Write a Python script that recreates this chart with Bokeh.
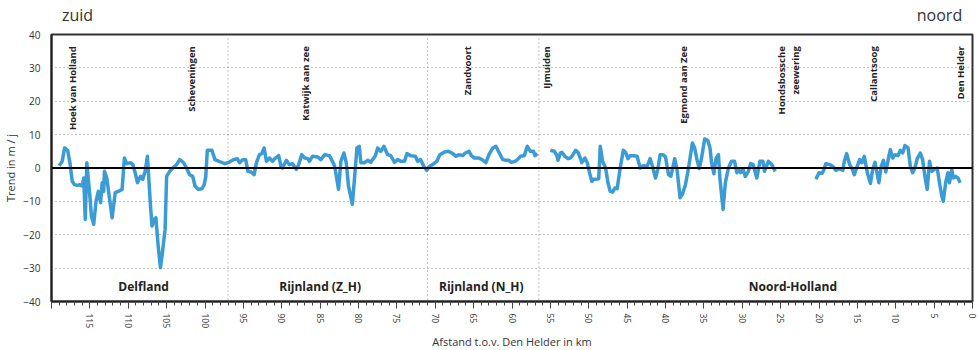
import math
from bokeh.plotting import figure
from bokeh.models import (Range1d, FixedTicker, SingleIntervalTicker, Span, LinearAxis, ColumnDataSource)
from bokeh.core.properties import value
from bokeh.embed import file_html
from bokeh.resources import INLINE

# ---- data ----
km = [119.0, 118.6, 118.3, 117.9, 117.6, 117.3, 117.0, 116.7, 116.3, 116.0, 115.8, 115.6, 115.4, 115.0,
      114.8, 114.5, 114.2, 113.9, 113.6, 113.4, 113.2, 113.1, 112.8, 112.1, 111.7, 111.3, 110.8, 110.5,
      110.2, 109.7, 109.4, 109.1, 108.8, 108.4, 108.1, 107.8, 107.5, 107.1, 106.9, 106.6, 106.4, 106.1,
      105.8, 105.6, 105.2, 105.0, 104.6, 104.2, 103.7, 103.3, 102.8, 102.4, 102.0, 101.6, 101.3, 100.9,
      100.4, 100.1, 99.9, 99.7, 99.1, 98.7, 98.1, 97.4, 97.0, 96.3, 95.8, 95.5, 95.1, 94.7, 94.4, 94.0,
      93.6, 93.3, 92.9, 92.6, 92.3, 92.0, 91.6, 91.2, 90.9, 90.4, 90.1, 89.9, 89.4, 89.0, 88.6, 88.1,
      87.8, 87.4, 87.0, 86.6, 86.4, 86.0, 85.3, 84.9, 84.4, 83.8, 83.5, 83.1, 82.6, 82.3, 81.9, 81.6,
      81.3, 80.8, 80.5, 80.2, 79.9, 79.7, 79.2, 78.8, 78.4, 77.8, 77.5, 77.1, 76.7, 76.2, 75.8, 75.3,
      74.9, 74.5, 74.0, 73.7, 73.2, 72.6, 72.3, 71.9, 71.5, 71.1, 70.8, 70.2, 69.8, 69.4, 68.8, 68.3,
      67.7, 67.3, 66.9, 66.4, 66.1, 65.6, 65.3, 64.9, 64.3, 63.9, 63.4, 63.0, 62.5, 62.1, 61.7, 61.2,
      60.8, 60.4, 60.1, 59.6, 59.3, 58.9, 58.4, 58.0, 57.6, 57.2, 57.0, 56.7,
      56.0,
      55.0, 54.5, 54.2, 54.0, 53.7, 53.5, 53.1, 52.7, 52.4, 52.2, 51.7, 51.4, 51.1, 50.9, 50.5, 50.2,
      49.9, 49.6, 49.4, 49.1, 48.7, 48.5, 48.2, 47.8, 47.5, 47.2, 46.9, 46.6, 46.3, 45.9, 45.5, 45.2,
      44.9, 44.6, 44.2, 43.7, 43.3, 42.9, 42.4, 42.0, 41.7, 41.3, 41.0, 40.7, 40.3, 40.0, 39.6, 39.3,
      38.8, 38.5, 38.1, 37.8, 37.4, 37.0, 36.5, 36.2, 35.9, 35.6, 35.3, 34.9, 34.5, 34.2, 34.0, 33.7,
      33.4, 33.1, 32.9, 32.5, 32.2, 31.8, 31.4, 31.0, 30.7, 30.5, 30.2, 29.9, 29.6, 29.2, 28.9, 28.6,
      28.1, 27.7, 27.3, 27.1, 26.6, 26.2, 25.7,
      23.0,
      20.4, 20.0, 19.6, 19.4, 19.1, 18.6, 18.2, 17.8, 17.3, 16.9, 16.7, 16.4, 16.0, 15.7, 15.4, 15.1,
      14.7, 14.4, 14.1, 13.7, 13.3, 13.0, 12.7, 12.2, 11.9, 11.6, 11.3, 10.9, 10.7, 10.4, 10.1, 9.7,
      9.4, 9.1, 8.8, 8.4, 8.1, 7.8, 7.5, 7.2, 6.8, 6.5, 6.2, 5.9, 5.6, 5.3, 5.0, 4.6, 4.3, 4.0, 3.8,
      3.5, 3.2, 3.0, 2.7, 2.5, 2.2, 1.9, 1.6]

trend = [0.7, 2.0, 6.0, 5.3, 1.6, -4.0, -5.0, -5.2, -5.0, -5.4, -3.0, -15.4, 1.6, -8.4,
         -14.4, -16.9, -10.0, -7.0, -10.4, -4.4, -7.0, -1.0, -3.0, -14.9, -7.4, -7.0, -6.4, 3.0,
         1.3, 1.6, 1.0, -1.4, -4.4, -2.5, -3.4, -1.0, 3.5, -11.4, -17.4, -15.4, -14.9, -23.4,
         -29.9, -26.4, -18.4, -2.5, -1.0, 0.0, 1.0, 2.5, 1.6, 0.0, -2.0, -2.5, -5.4, -6.4,
         -6.2, -5.0, -2.5, 5.3, 5.3, 2.5, 1.9, 1.3, 1.6, 2.5, 2.8, 1.6, 2.5, 2.5, -1.0, -1.2,
         -2.0, 1.6, 4.0, 4.3, 6.0, 2.0, 3.0, 2.0, 2.8, 3.7, 0.5, 0.0, 2.3, 1.0, 1.3, -0.4,
         1.0, 4.0, 3.0, 2.8, 2.0, 3.5, 3.3, 2.5, 4.0, 3.7, 2.5, 0.5, -6.4, 2.0, 4.5, 1.6,
         -5.4, -10.9, -2.5, 6.0, 6.5, 1.6, 1.6, 2.3, 1.7, 3.7, 6.0, 5.0, 6.5, 4.0, 3.7, 1.7,
         2.5, 2.0, 2.0, 4.3, 3.7, 3.5, 2.0, 2.5, 0.5, -0.7, 0.4, 1.3, 2.0, 4.0, 4.8, 5.0,
         4.3, 3.5, 4.0, 3.7, 4.5, 5.0, 3.7, 3.0, 3.0, 2.5, 1.6, 4.0, 6.0, 6.5, 4.7, 2.5,
         2.3, 2.3, 1.7, 2.0, 2.5, 3.5, 3.7, 6.5, 5.0, 5.0, 3.7, 4.3,
         float("nan"),
         5.3, 5.0, 4.0, 2.3, 4.5, 4.7, 3.5, 2.8, 3.0, 3.5, 5.3, 4.7, 3.0, 1.6, 3.0, 1.6,
         -1.4, -4.0, -3.4, -3.4, -3.2, 6.5, 2.0, 0.0, -4.4, -7.0, -7.2, -6.0, -6.2, 0.0, 5.3, 4.7,
         2.8, 3.7, 3.7, 3.5, 0.0, 0.7, 0.5, 2.8, 0.5, -3.0, -0.4, 4.0, 4.0, 3.3, -2.0, -2.5,
         2.8, -0.4, -8.9, -7.9, -5.0, 0.0, 7.5, 6.0, 2.5, -0.2, 3.0, 8.7, 8.3, 6.0, 1.6, -1.7,
         3.0, 4.0, -3.4, -12.4, -4.4, 0.0, 2.0, 2.0, -1.4, -0.4, -1.4, -0.4, -2.5, -1.0, 1.3, 1.1,
         -3.0, 2.0, 2.0, -1.0, 2.0, 1.2, -1.0,
         float("nan"),
         -3.4, -1.4, -1.6, -0.7, 1.3, 1.0, 0.5, -0.7, -0.2, -0.7, 2.0, 4.3, 1.0, -0.2, -2.0, 0.0,
         2.5, 1.6, 3.5, -1.4, -4.6, -0.4, 1.7, -4.4, 0.5, 2.3, -1.2, 3.5, 5.5, 3.0, 4.0, 3.7,
         5.3, 4.5, 6.7, 6.0, 0.5, -1.4, 0.0, 2.8, 4.5, 2.5, -2.5, -6.4, 2.0, -1.0, -0.4, 0.0, -4.4, -8.4, -10.0,
         -4.4, -1.4, -4.4, -0.4, -3.0, -2.5, -3.0, -4.4]

places = ["Hoek van Holland", "Scheveningen", "Katwijk aan zee", "Zandvoort", "IJmuiden",
          "Egmond aan Zee", "Hondsbossche\nzeewering", "Callantsoog", "Den Helder"]
places_km = [117.3, 101.7, 86.9, 65.8, 55.5, 37.7, 24.0, 12.9, 1.6]

regions = ["Delfland", "Rijnland (Z_H)", "Rijnland (N_H)", "Noord-Holland"]
regions_km = [108.0, 85.0, 64.0, 23.4]

boundaries_km = [97.0, 71.0, 56.5]

directions = ["zuid", "noord"]
directions_km = [116.6, 4.3]

y_ticks = [-40, -30, -20, -10, 0, 10, 20, 30, 40]

# ---- figure ----
FONT = "Open Sans"
p = figure(frame_width=921, frame_height=267, output_backend="svg", toolbar_location=None,
           x_range=Range1d(120, 0), y_range=Range1d(-40, 40),
           min_border_left=10, min_border_right=9, min_border_top=5, min_border_bottom=48)
p.background_fill_color = "white"
p.border_fill_color = "white"
p.outline_line_color = "#333333"
p.outline_line_width = 2

# grid
p.xgrid.visible = False
p.ygrid.ticker = FixedTicker(ticks=[t for t in y_ticks if t not in (0, 40, -40)])
p.ygrid.grid_line_color = "#888888"
p.ygrid.grid_line_dash = "1 3"
p.ygrid.grid_line_width = 1

for b in boundaries_km:
    p.add_layout(Span(location=b, dimension="height", line_color="#888888",
                      line_dash="1 3", line_width=1))
p.add_layout(Span(location=0, dimension="width", line_color="black", line_width=2))

# axes
xa = p.xaxis[0]
xa.ticker = SingleIntervalTicker(interval=5, num_minor_ticks=5)
xa.major_label_overrides = {120: ""}
xa.major_tick_out = 7
xa.major_tick_in = 0
xa.minor_tick_out = 4
xa.minor_tick_in = 0
xa.major_label_orientation = -math.pi / 2
xa.major_label_standoff = 5
xa.major_label_text_font = FONT
xa.major_label_text_font_size = "8.5px"
xa.major_label_text_color = "#333333"
xa.axis_line_width = 2
xa.axis_line_color = "#222222"
xa.major_tick_line_color = "#444444"
xa.minor_tick_line_color = "#444444"
xa.axis_label = "Afstand t.o.v. Den Helder in km"
xa.axis_label_text_font = FONT
xa.axis_label_text_font_style = "normal"
xa.axis_label_text_font_size = "11px"
xa.axis_label_text_color = "#333333"
xa.axis_label_standoff = 3

ya = p.yaxis[0]
ya.ticker = FixedTicker(ticks=y_ticks)
ya.major_tick_line_color = None
ya.minor_tick_line_color = None
ya.major_label_text_font = FONT
ya.major_label_text_font_size = "10px"
ya.major_label_text_color = "#333333"
ya.major_label_standoff = 5
ya.axis_line_width = 2
ya.axis_line_color = "#222222"
ya.axis_label = "Trend in m / j"
ya.axis_label_text_font = FONT
ya.axis_label_text_font_style = "normal"
ya.axis_label_text_font_size = "11px"
ya.axis_label_text_color = "#333333"
ya.axis_label_standoff = 2

# direction labels as an axis above the frame
top = LinearAxis(ticker=FixedTicker(ticks=directions_km),
                 major_label_overrides={k: t for k, t in zip(directions_km, directions)})
top.axis_line_color = None
top.major_tick_line_color = None
top.minor_tick_line_color = None
top.major_label_text_font = FONT
top.major_label_text_font_size = "16px"
top.major_label_text_color = "#333333"
top.major_label_standoff = 3
p.add_layout(top, "above")

# data line
src = ColumnDataSource(dict(km=km, trend=trend))
p.line("km", "trend", source=src, line_color="#3a9bd5", line_width=3.5, line_join="round")

# place labels
psrc = ColumnDataSource(dict(x=places_km, y=[36.5] * len(places_km), t=places))
p.text("x", "y", text="t", source=psrc, angle=math.pi / 2, text_align="right",
       text_baseline="middle", text_font=value(FONT), text_font_style="bold",
       text_font_size="9.5px", text_color="#222222", text_line_height=1.1)

# region labels
rsrc = ColumnDataSource(dict(x=regions_km, y=[-35.6] * len(regions_km), t=regions))
p.text("x", "y", text="t", source=rsrc, text_align="center", text_baseline="middle",
       text_font=value(FONT), text_font_style="bold", text_font_size="12px",
       text_color="#222222")

open("out.html", "w").write(file_html(p, INLINE))
